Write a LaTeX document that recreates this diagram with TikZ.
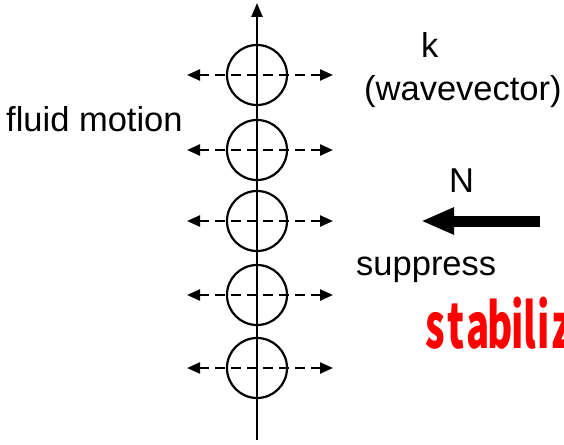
\documentclass[tikz,border=0pt]{standalone}
\usepackage{fontspec}
\setmainfont{Liberation Sans}
\newfontfamily\jpfont{Noto Sans CJK JP}
\usetikzlibrary{arrows.meta}
\newcommand\redletter[2]{\makebox[#1pt]{\scalebox{0.62}[1]{#2}}}
\tikzset{
  circ/.style={draw, circle, line width=2.2pt, minimum size=60pt, inner sep=0pt},
  axisline/.style={line width=2.4pt, -{Triangle[length=14pt,width=11pt]}},
  flow/.style={line width=2.4pt, dash pattern=on 10pt off 6pt, {Triangle[length=13pt,width=11pt]}-{Triangle[length=13pt,width=11pt]}},
  bigarrow/.style={line width=11pt, -{Triangle[length=33pt,width=25pt]}},
  lbl/.style={anchor=base west, inner sep=0pt, font=\fontsize{34.5}{40}\selectfont},
  red lbl/.style={anchor=base west, inner sep=0pt, text=red, font=\jpfont\bfseries\fontsize{62}{68}\selectfont}
}
\begin{document}
\begin{tikzpicture}[x=1pt,y=-1pt]
\useasboundingbox (0,0) rectangle (564,444);
\clip (0,0) rectangle (564,444);
\foreach \i/\y in {1/75,2/150,3/221,4/295,5/368}{
  \node[circ] (c\i) at (257,\y) {};
  \coordinate (l\i) at (187,\y);
  \coordinate (r\i) at (333,\y);
  \draw[flow] (l\i) -- (r\i);
}
\coordinate (bot) at (257,440);
\coordinate (top) at (257,3);
\draw[axisline] (bot) -- (top);
\node[lbl] (k) at (421,57) {k};
\node[lbl] (wv) at (364,100) {(wavevector)};
\node[lbl] (fm) at (6,131) {fluid motion};
\node[lbl] (n) at (449,192) {N};
\coordinate (ns) at (540,221);
\coordinate (ne) at (421,221);
\draw[bigarrow] (ns) -- (ne);
\node[lbl] (sup) at (356,275) {suppress};
\node[red lbl] (stab) at (425,348) {\redletter{20}{s}\redletter{21}{t}\redletter{23}{a}\redletter{21}{b}\redletter{14}{i}\redletter{12}{l}\redletter{14}{i}\redletter{24}{z}};
\end{tikzpicture}
\end{document}
